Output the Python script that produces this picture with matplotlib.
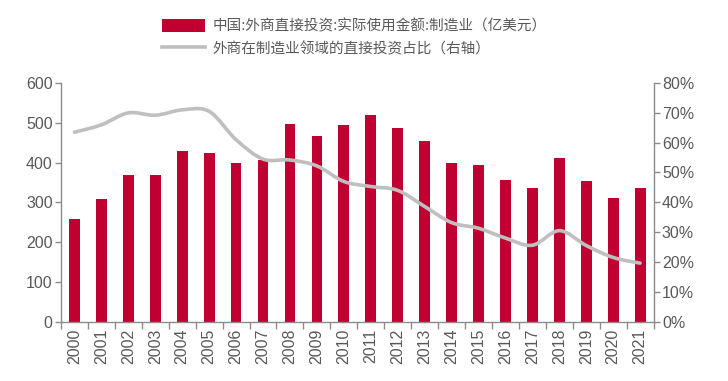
import numpy as np
import matplotlib.pyplot as plt
from matplotlib.path import Path
from matplotlib.patches import PathPatch, Patch
from matplotlib.lines import Line2D
from matplotlib.ticker import FuncFormatter

plt.rcParams['font.family'] = ['Liberation Sans', 'Noto Sans CJK SC', 'DejaVu Sans']

years = [str(y) for y in range(2000, 2022)]
fdi_mfg = [258, 308, 368, 369, 430, 425, 400, 407, 498, 466, 494, 519,
           486, 453, 398, 395, 355, 335, 412, 354, 310, 337]
mfg_share = [63.5, 66.0, 70.0, 69.2, 71.0, 70.5, 61.0, 54.5, 54.2, 52.2, 47.0, 45.3,
             44.0, 38.6, 33.2, 31.3, 28.0, 25.6, 30.5, 25.5, 21.5, 19.6]

bar_label = '中国:外商直接投资:实际使用金额:制造业（亿美元）'
line_label = '外商在制造业领域的直接投资占比（右轴）'

red = '#C00031'
gray_line = '#BFBFBF'
axis_col = '#8C8C8C'
text_col = '#595959'

fig = plt.figure(figsize=(7.28, 3.81), dpi=100)
ax = fig.add_axes([0.0838, 0.156, 0.814, 0.626])
ax2 = ax.twinx()

x = np.arange(len(years))
ax.bar(x, fdi_mfg, width=0.4, color=red, zorder=2)

# smooth curve through the share points (cubic bezier, catmull-rom style)
px = x.astype(float)
py = np.array(mfg_share, dtype=float)
verts = [(px[0], py[0])]
codes = [Path.MOVETO]
for i in range(len(px) - 1):
    p0 = (px[i - 1], py[i - 1]) if i > 0 else (px[i], py[i])
    p3 = (px[i + 2], py[i + 2]) if i + 2 < len(px) else (px[i + 1], py[i + 1])
    c1 = (px[i] + (px[i + 1] - p0[0]) / 6, py[i] + (py[i + 1] - p0[1]) / 6)
    c2 = (px[i + 1] - (p3[0] - px[i]) / 6, py[i + 1] - (p3[1] - py[i]) / 6)
    verts += [c1, c2, (px[i + 1], py[i + 1])]
    codes += [Path.CURVE4] * 3
ax2.add_patch(PathPatch(Path(verts, codes), facecolor='none', edgecolor=gray_line,
                        lw=2.6, capstyle='round', joinstyle='round', zorder=3))

ax.set_xlim(-0.5, len(years) - 0.5)
ax.set_ylim(0, 600)
ax2.set_ylim(0, 80)
ax.set_yticks(range(0, 601, 100))
ax2.set_yticks(range(0, 81, 10))
ax2.yaxis.set_major_formatter(FuncFormatter(lambda v, p: f'{int(v)}%'))

ax.set_xticks(x)
ax.set_xticklabels(years, rotation=90)
ax.set_xticks(np.arange(-0.5, len(years), 1), minor=True)
ax.tick_params(axis='x', which='major', length=0, pad=5, labelsize=11.5, labelcolor=text_col)
ax.tick_params(axis='x', which='minor', length=5, color=axis_col, width=1)
ax.tick_params(axis='y', length=4, color=axis_col, width=1, labelsize=11.5,
               labelcolor=text_col, pad=2)
ax2.tick_params(axis='y', length=4, color=axis_col, width=1, labelsize=11.5,
                labelcolor=text_col, pad=2)

for a in (ax, ax2):
    a.spines['top'].set_visible(False)
    for s in ('left', 'right', 'bottom'):
        a.spines[s].set_color(axis_col)
        a.spines[s].set_linewidth(1)
ax.spines['right'].set_visible(False)
ax2.spines['left'].set_visible(False)
ax2.spines['bottom'].set_visible(False)

handles = [Patch(facecolor=red, edgecolor='none'),
           Line2D([0], [0], color=gray_line, lw=2.6)]
fig.legend(handles, [bar_label, line_label], loc='upper left',
           bbox_to_anchor=(0.205, 0.985), frameon=False,
           prop={'family': ['Noto Sans CJK SC', 'DejaVu Sans'], 'size': 10.5},
           labelcolor=text_col, handlelength=2.9, handleheight=1.0,
           handletextpad=0.55, labelspacing=0.55)

fig.savefig('out.png', dpi=100)
